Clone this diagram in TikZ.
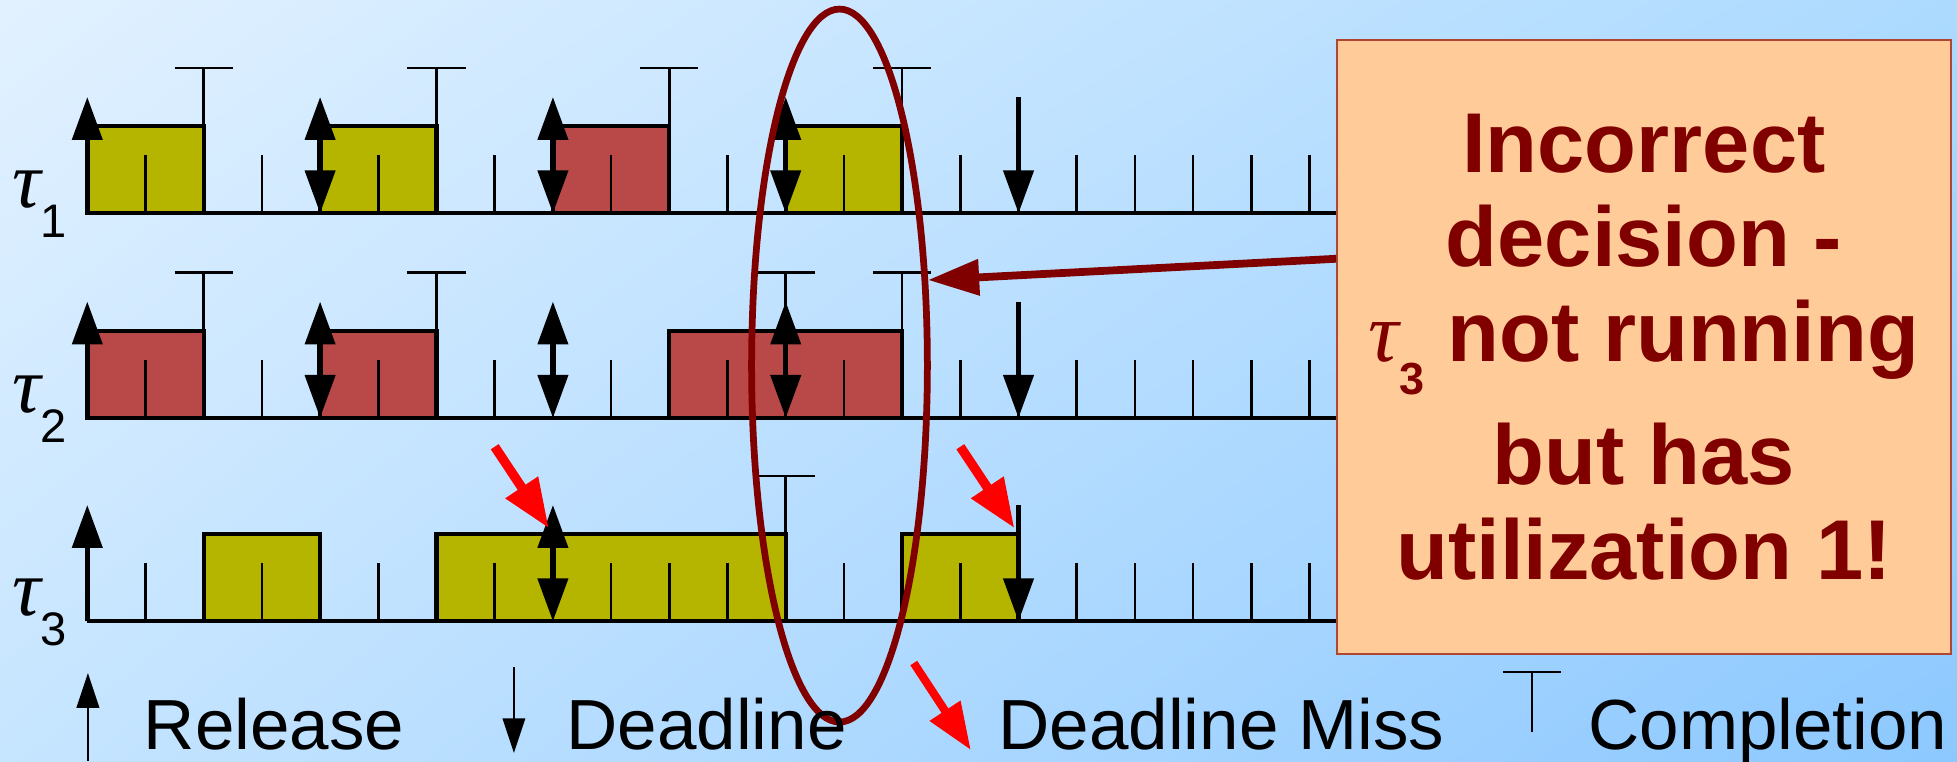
\documentclass[tikz,border=0pt]{standalone}
\usepackage{fontspec}
\setmainfont{Liberation Sans}
\newfontfamily\greek{Liberation Serif}
\usetikzlibrary{arrows.meta,positioning,shapes.geometric,shadings}

\definecolor{bgTL}{RGB}{226,241,255}
\definecolor{bgTR}{RGB}{172,218,255}
\definecolor{bgBL}{RGB}{198,229,255}
\definecolor{bgBR}{RGB}{140,200,255}
\definecolor{jobyellow}{RGB}{181,181,0}
\definecolor{jobred}{RGB}{185,73,73}
\definecolor{notefill}{RGB}{255,204,153}
\definecolor{noteedge}{RGB}{175,70,50}
\definecolor{darkred}{RGB}{128,0,0}

\begin{document}
\begin{tikzpicture}[
    rel/.style={line width=2.6pt, -{Triangle[length=21pt,width=14.5pt]}},
    both/.style={line width=2.6pt, {Triangle[length=21pt,width=14.5pt]}-{Triangle[length=21pt,width=14.5pt]}},
    tick/.style={line width=1.3pt},
    axis/.style={line width=2pt},
    jobA/.style={draw, line width=2pt, fill=jobyellow},
    jobB/.style={draw, line width=2pt, fill=jobred},
    miss/.style={red, line width=4.6pt, -{Triangle[length=24pt,width=18pt]}},
    legarr/.style={line width=1.1pt, -{Triangle[length=17pt,width=11pt]}},
    legtext/.style={anchor=base west, inner sep=0pt, font=\fontsize{34.7}{40}\selectfont},
    tasklab/.style={anchor=base west, inner sep=0pt, font=\fontsize{39}{40}\selectfont}
  ]
    % Background
    \useasboundingbox (0,0) rectangle (33.625,13.076);
    \shade[upper left=bgTL, upper right=bgTR, lower left=bgBL, lower right=bgBR] (0,0) rectangle (33.625,13.076);

    % Task labels
    \node[tasklab] (lab1) at (0.2,9.51) {{\greek\itshape τ}\raisebox{-14.7pt}{\fontsize{23}{23}\selectfont 1}};
    \node[tasklab] (lab2) at (0.2,5.995) {{\greek\itshape τ}\raisebox{-14.7pt}{\fontsize{23}{23}\selectfont 2}};
    \node[tasklab] (lab3) at (0.2,2.50) {{\greek\itshape τ}\raisebox{-14.7pt}{\fontsize{23}{23}\selectfont 3}};

    % Task 1
    \begin{scope}[shift={(1.5,9.41)}]
      \draw[jobA] (0,0) rectangle (2,1.5);
      \draw[jobA] (4,0) rectangle (6,1.5);
      \draw[jobB] (8,0) rectangle (10,1.5);
      \draw[jobA] (12,0) rectangle (14,1.5);
      \foreach \t in {1,...,21} \draw[tick] (\t,0) -- (\t,1);
      \foreach \c in {2,6,10,14} \draw[tick] (\c,0) -- (\c,2.5) (\c-0.5,2.5) -- (\c+0.5,2.5);
      \draw[axis] (0,0) -- (22,0);
      \draw[rel] (0,0) -- (0,2);
      \foreach \r in {4,8,12} \draw[both] (\r,0) -- (\r,2);
      \draw[rel] (16,2) -- (16,0);
    \end{scope}

    % Task 2
    \begin{scope}[shift={(1.5,5.895)}]
      \draw[jobB] (0,0) rectangle (2,1.5);
      \draw[jobB] (4,0) rectangle (6,1.5);
      \draw[jobB] (10,0) rectangle (14,1.5);
      \foreach \t in {1,...,21} \draw[tick] (\t,0) -- (\t,1);
      \foreach \c in {2,6,12,14} \draw[tick] (\c,0) -- (\c,2.5) (\c-0.5,2.5) -- (\c+0.5,2.5);
      \draw[axis] (0,0) -- (22,0);
      \draw[rel] (0,0) -- (0,2);
      \foreach \r in {4,8,12} \draw[both] (\r,0) -- (\r,2);
      \draw[rel] (16,2) -- (16,0);
    \end{scope}

    % Task 3
    \begin{scope}[shift={(1.5,2.40)}]
      \draw[jobA] (2,0) rectangle (4,1.5);
      \draw[jobA] (6,0) rectangle (12,1.5);
      \draw[jobA] (14,0) rectangle (16,1.5);
      \foreach \t in {1,...,21} \draw[tick] (\t,0) -- (\t,1);
      \draw[tick] (12,0) -- (12,2.5) (11.5,2.5) -- (12.5,2.5);
      \draw[axis] (0,0) -- (22,0);
      \draw[rel] (0,0) -- (0,2);
      \draw[both] (8,0) -- (8,2);
      \draw[rel] (16,2) -- (16,0);
      % deadline misses
      \draw[miss] (7.0,3.0) -- (7.93,1.6);
      \draw[miss] (15.0,3.0) -- (15.93,1.6);
    \end{scope}

    % Highlight and comment
    \node[ellipse, draw=darkred, line width=3.3pt, minimum width=3.02cm, minimum height=12.25cm, inner sep=0pt] (focus) at (14.424,6.795) {};
    \node[draw=noteedge, line width=0.8pt, fill=notefill, minimum width=10.55cm, minimum height=10.55cm, inner sep=0pt,
      align=center, text=darkred, font=\bfseries\fontsize{41.5}{46.4}\selectfont] (note) at (28.245,7.113)
      {Incorrect\\decision -\\{\mdseries\greek\itshape τ}\smash{\raisebox{-16pt}{\fontsize{22}{22}\selectfont 3}} not running\\[13.7pt]but has\\utilization 1!};
    \coordinate (hit) at (15.945,8.265);
    \draw[darkred, line width=3.8pt, -{Triangle[length=25pt,width=17pt]}] (note.164) -- (hit);

    % Legend
    \draw[legarr] (1.51,0) -- (1.51,1.512);
    \node[legtext] (lrel) at (2.466,0.206) {Release};
    \draw[legarr] (8.83,1.615) -- (8.83,0.137);
    \node[legtext] (ldl) at (9.725,0.206) {Deadline};
    \draw[red, line width=4pt, -{Triangle[length=23pt,width=17pt]}] (15.70,1.684) -- (16.68,0.189);
    \node[legtext] (lmiss) at (17.15,0.206) {Deadline Miss};
    \draw[tick] (25.82,1.529) -- (26.82,1.529) (26.32,1.529) -- (26.32,0.498);
    \node[legtext] (lcomp) at (27.285,0.206) {Completion};
  \end{tikzpicture}
\end{document}
